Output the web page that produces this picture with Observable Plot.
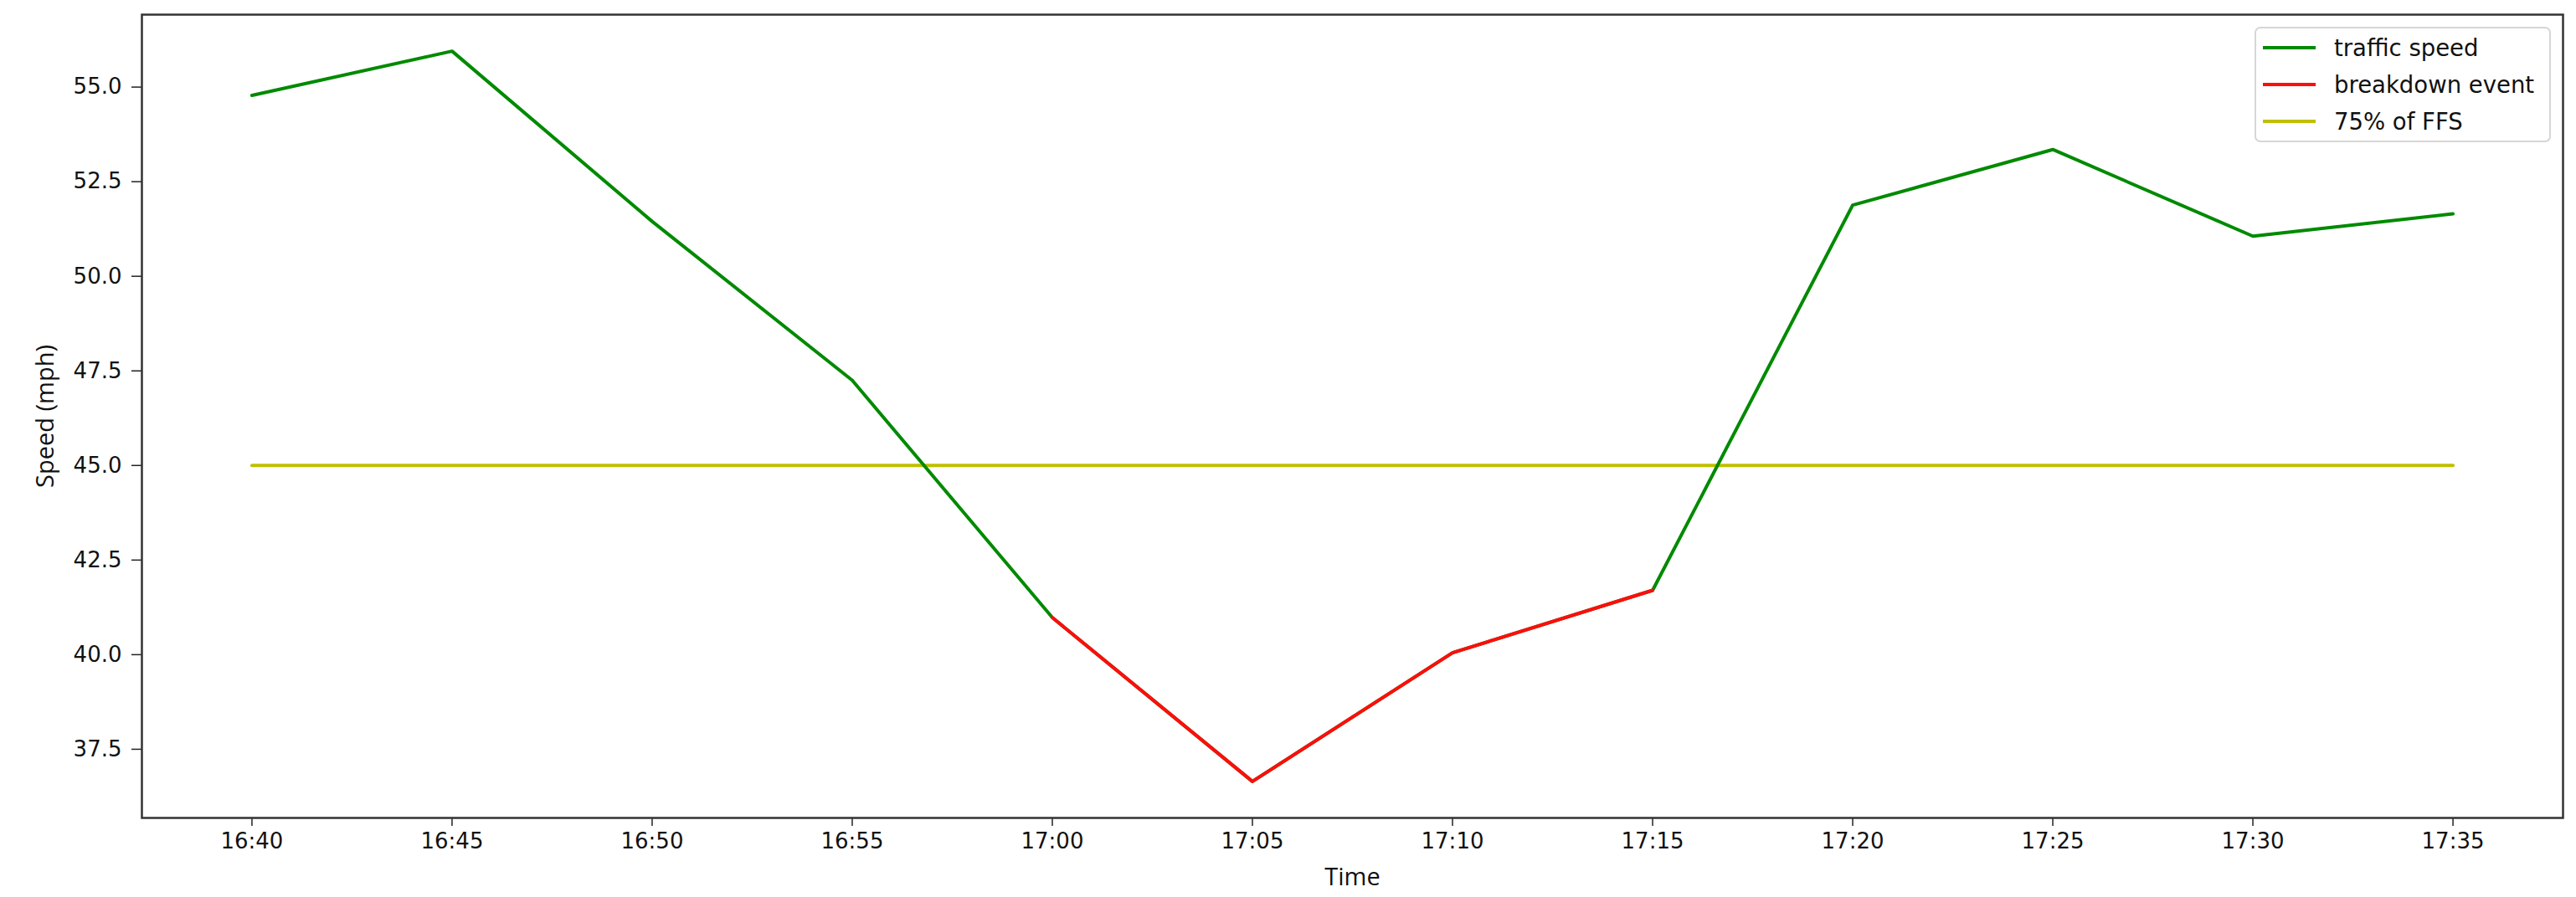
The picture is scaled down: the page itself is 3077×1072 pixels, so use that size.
<!DOCTYPE html>
<html><head><meta charset="utf-8">
<script src="https://cdn.jsdelivr.net/npm/d3@7"></script>
<script src="https://cdn.jsdelivr.net/npm/@observablehq/plot@0.6"></script>
<style>
body{margin:0;background:#fff;}
#wrap{position:relative;width:3077px;height:1072px;overflow:hidden;}
#wrap svg{display:block;}
g[aria-label="x-axis label"] text, g[aria-label="y-axis label"] text{font-family:"Open Sans",sans-serif;font-size:29px;fill:#111;}
#legend{position:absolute;left:2693px;top:32px;width:354px;height:138px;box-sizing:border-box;border:2px solid #d6d6d6;border-radius:7px;background:rgba(255,255,255,0.85);font-family:"DejaVu Sans",sans-serif;font-size:27.5px;color:#111;}
#legend .row{position:absolute;left:0;height:40px;display:flex;align-items:center;}
#legend .sw{width:63px;height:4.5px;margin-left:8px;margin-right:22px;}
</style></head><body><div id="wrap"><div id="legend"></div></div>
<script>
const times = ["16:40","16:45","16:50","16:55","17:00","17:05","17:10","17:15","17:20","17:25","17:30","17:35"];
const speeds = [54.78, 55.95, 51.45, 47.25, 40.98, 36.65, 40.05, 41.70, 51.88, 53.35, 51.06, 51.65];
const breakdownTimes = ["17:00","17:05","17:10","17:15"];
const ffs75 = 45;
const yTicks = [37.5, 40.0, 42.5, 45.0, 47.5, 50.0, 52.5, 55.0];
const seriesNames = ["traffic speed", "breakdown event", "75% of FFS"];
const seriesColors = ["#008a00", "#ff0d0d", "#bfbf00"];

const parse = d3.utcParse("%H:%M");
const data = times.map((t, i) => ({time: parse(t), speed: speeds[i], breakdown: breakdownTimes.includes(t)}));
const breakdownData = data.filter(d => d.breakdown);
const ffsData = [{time: data[0].time, speed: ffs75}, {time: data[data.length - 1].time, speed: ffs75}];

// matplotlib-like 5% margins
const tExt = d3.extent(data, d => +d.time);
const tPad = (tExt[1] - tExt[0]) * 0.05;
const yExt = d3.extent(speeds);
const yPad = (yExt[1] - yExt[0]) * 0.05;

const chart = Plot.plot({
  width: 3077,
  height: 1072,
  marginLeft: 169,
  marginRight: 16,
  marginTop: 17,
  marginBottom: 95,
  style: {fontFamily: "DejaVu Sans, sans-serif", fontSize: "26px", color: "#111", background: "#fff"},
  x: {type: "utc", domain: [new Date(tExt[0] - tPad), new Date(tExt[1] + tPad)]},
  y: {domain: [yExt[0] - yPad, yExt[1] + yPad]},
  marks: [
    Plot.axisX({ticks: data.map(d => d.time), tickFormat: d3.utcFormat("%H:%M"), tickSize: 10, tickPadding: 8, label: "Time", labelAnchor: "center", labelArrow: false, labelOffset: 80, stroke: "#222", strokeWidth: 1.5}),
    Plot.axisY({ticks: yTicks, tickFormat: d3.format(".1f"), tickSize: 12, tickPadding: 12, label: "Speed (mph)", labelAnchor: "center", labelArrow: false, labelOffset: 126, stroke: "#222", strokeWidth: 1.5}),
    Plot.line(ffsData, {x: "time", y: "speed", stroke: seriesColors[2], strokeWidth: 4}),
    Plot.line(data, {x: "time", y: "speed", stroke: seriesColors[0], strokeWidth: 4}),
    Plot.line(breakdownData, {x: "time", y: "speed", stroke: seriesColors[1], strokeWidth: 4}),
    Plot.frame({stroke: "#333", strokeWidth: 2.5})
  ]
});
document.getElementById("wrap").prepend(chart);

const legend = document.getElementById("legend");
seriesNames.forEach((name, i) => {
  const row = document.createElement("div");
  row.className = "row";
  row.style.top = (3 + i * 44) + "px";
  const sw = document.createElement("div");
  sw.className = "sw";
  sw.style.background = seriesColors[i];
  const label = document.createElement("span");
  label.textContent = name;
  row.append(sw, label);
  legend.append(row);
});
</script></body></html>
